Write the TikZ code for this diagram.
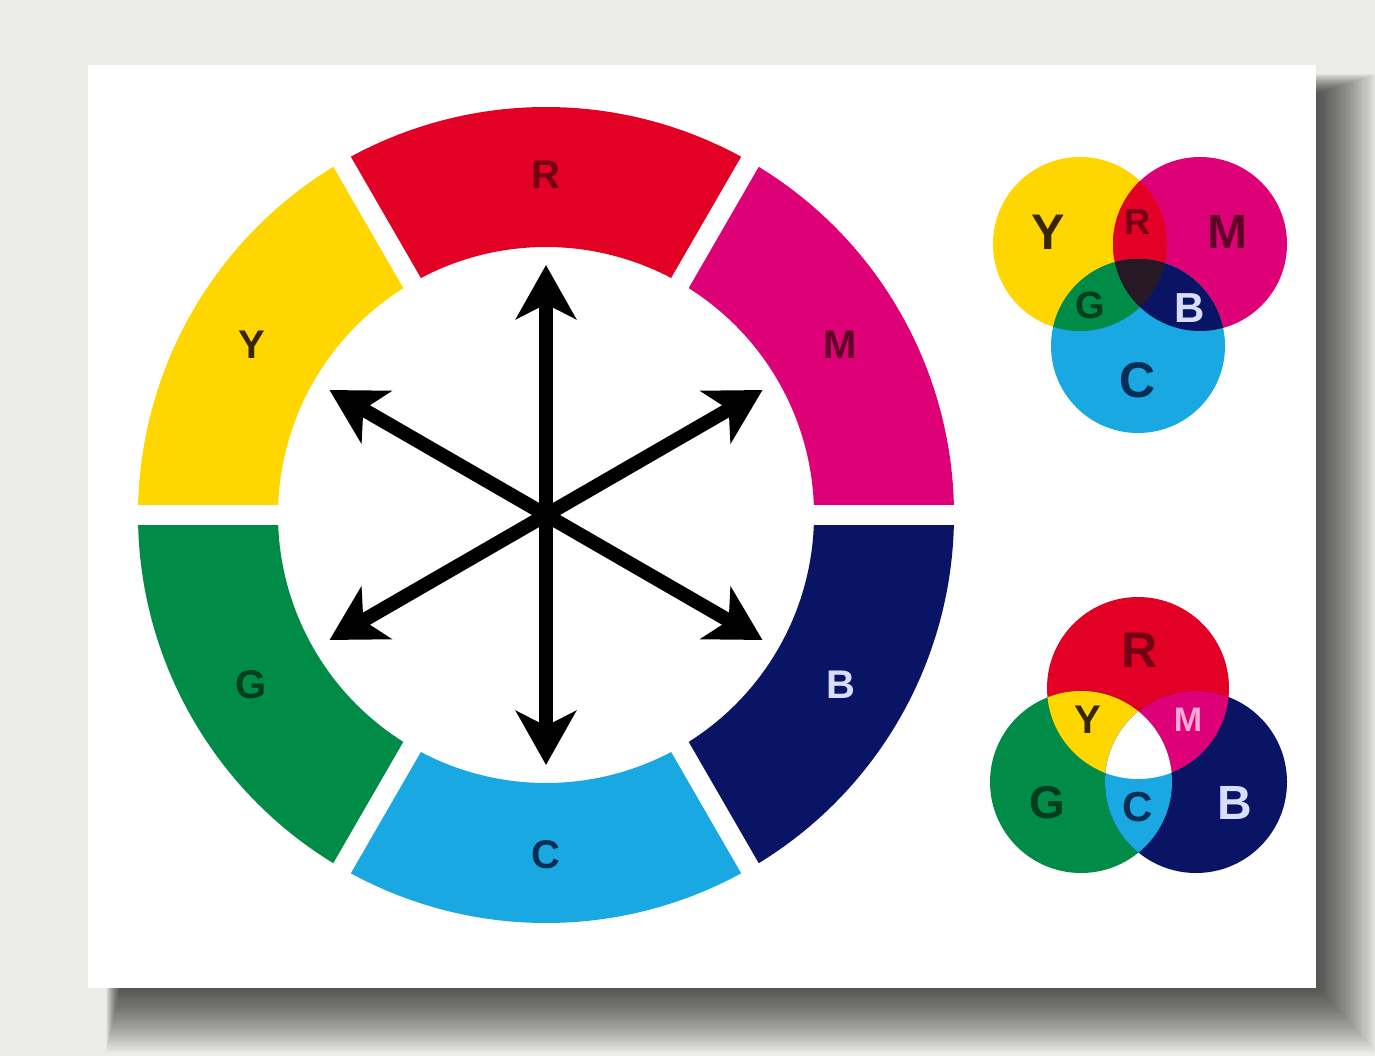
\documentclass[tikz,border=0pt]{standalone}
\usepackage{fontspec}
\setmainfont{Liberation Sans}
\usetikzlibrary{arrows.meta,calc}
\definecolor{bgc}{RGB}{236,236,232}
\definecolor{cR}{RGB}{226,0,36}
\definecolor{cY}{RGB}{255,214,0}
\definecolor{cM}{RGB}{222,0,118}
\definecolor{cB}{RGB}{10,20,100}
\definecolor{cC}{RGB}{25,168,225}
\definecolor{cG}{RGB}{0,140,70}
\definecolor{cK}{RGB}{38,24,36}
\definecolor{tR}{RGB}{115,0,20}
\definecolor{tY}{RGB}{55,38,0}
\definecolor{tM}{RGB}{95,0,40}
\definecolor{tG}{RGB}{0,60,30}
\definecolor{tB}{RGB}{215,222,255}
\definecolor{tC}{RGB}{10,45,85}
\definecolor{tMl}{RGB}{245,170,215}
\begin{document}
\begin{tikzpicture}[x=1pt,y=-1pt,
  lab/.style={font=\bfseries\fontsize{#1}{#1}\selectfont, inner sep=0pt},
  lab/.default=40,
  dbl/.style={line width=14pt,
    {Stealth[length=54pt,width=60pt,inset=15pt]}-{Stealth[length=54pt,width=60pt,inset=15pt]}}]
\useasboundingbox (0,0) rectangle (1375,1056);
\fill[bgc] (0,0) rectangle (1375,1056);
% drop shadow
\foreach \i in {0,...,27}{
  \fill[black,opacity=0.033] (106+0.5*\i,74+0.7*\i) rectangle (1376-2.1*\i,1052-2.3*\i);
}
% card
\fill[white] (88,65) rectangle (1316,988);

% colour ring
\begin{scope}[shift={(546,515)}]
  \foreach \a/\c/\t/\l in {270/cR/tR/R, 210/cY/tY/Y, 150/cG/tG/G, 90/cC/tC/C, 30/cB/tB/B, 330/cM/tM/M}{
    \fill[\c] (\a-30:408) arc[start angle=\a-30, end angle=\a+30, radius=408]
      -- (\a+30:268) arc[start angle=\a+30, end angle=\a-30, radius=268] -- cycle;
    \node[lab, text=\t] (ring\l) at (\a:340) {\l};
  }
  \foreach \a in {0,60,...,300}{
    \draw[white, line width=20pt] (\a:255) -- (\a:425);
  }
  \foreach \a in {30,90,...,330}{
    \coordinate (p\a) at (\a:250);
  }
  \draw[dbl] (p270) -- (p90);
  \draw[dbl] (p210) -- (p30);
  \draw[dbl] (p150) -- (p330);
\end{scope}

% subtractive mixing (top right)
\coordinate (sY) at (1080,244);
\coordinate (sM) at (1200,244);
\coordinate (sC) at (1138,346);
\def\rs{87}
\fill[cY] (sY) circle[radius=\rs];
\fill[cM] (sM) circle[radius=\rs];
\fill[cC] (sC) circle[radius=\rs];
\begin{scope}\clip (sY) circle[radius=\rs]; \fill[cR] (sM) circle[radius=\rs]; \end{scope}
\begin{scope}\clip (sY) circle[radius=\rs]; \fill[cG] (sC) circle[radius=\rs]; \end{scope}
\begin{scope}\clip (sM) circle[radius=\rs]; \fill[cB] (sC) circle[radius=\rs]; \end{scope}
\begin{scope}\clip (sY) circle[radius=\rs]; \clip (sM) circle[radius=\rs]; \fill[cK] (sC) circle[radius=\rs]; \end{scope}
\node[lab=50, text=tY] (sub-Y) at (1048,232) {Y};
\node[lab=36, text=tR] (sub-R) at (1137,222) {R};
\node[lab=48, text=tM] (sub-M) at (1227,232) {M};
\node[lab=38, text=tG] (sub-G) at (1090,305) {G};
\node[lab=42, text=tB] (sub-B) at (1190,308) {B};
\node[lab=50, text=tC] (sub-C) at (1138,380) {C};

% additive mixing (bottom right)
\coordinate (aR) at (1138,688);
\coordinate (aG) at (1081,782);
\coordinate (aB) at (1196,782);
\def\ra{91}
\fill[cR] (aR) circle[radius=\ra];
\fill[cG] (aG) circle[radius=\ra];
\fill[cB] (aB) circle[radius=\ra];
\begin{scope}\clip (aR) circle[radius=\ra]; \fill[cY] (aG) circle[radius=\ra]; \end{scope}
\begin{scope}\clip (aR) circle[radius=\ra]; \fill[cM] (aB) circle[radius=\ra]; \end{scope}
\begin{scope}\clip (aG) circle[radius=\ra]; \fill[cC] (aB) circle[radius=\ra]; \end{scope}
\begin{scope}\clip (aR) circle[radius=\ra]; \clip (aG) circle[radius=\ra]; \fill[white] (aB) circle[radius=\ra]; \end{scope}
\node[lab=50, text=tR] (add-R) at (1140,650) {R};
\node[lab=40, text=tY] (add-Y) at (1088,720) {Y};
\node[lab=34, text=tMl] (add-M) at (1188,720) {M};
\node[lab=46, text=tG] (add-G) at (1047,803) {G};
\node[lab=42, text=tC] (add-C) at (1138,807) {C};
\node[lab=48, text=tB] (add-B) at (1235,803) {B};
\end{tikzpicture}
\end{document}
